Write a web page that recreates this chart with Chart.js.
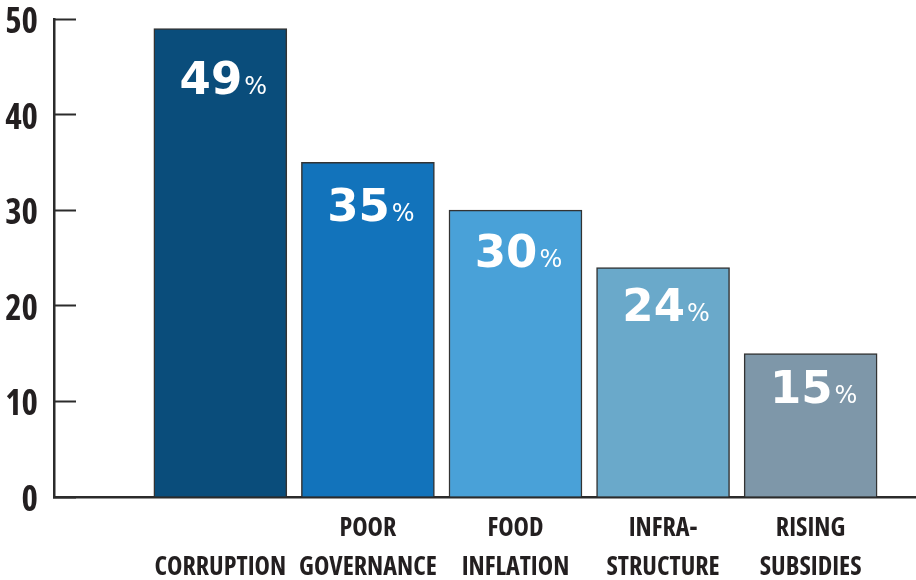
<!DOCTYPE html>
<html>
<head>
<meta charset="utf-8">
<script src="https://cdn.jsdelivr.net/npm/chart.js@4/dist/chart.umd.min.js"></script>
<style>
  html, body { margin: 0; padding: 0; background: #fff; }
  #wrap { width: 916px; height: 580px; position: relative; }
</style>
</head>
<body>
<div id="wrap"><canvas id="chart"></canvas></div>
<script>
// Survey shares (%) per issue.
const categories = [
  ["", "CORRUPTION"],
  ["POOR", "GOVERNANCE"],
  ["FOOD", "INFLATION"],
  ["INFRA-", "STRUCTURE"],
  ["RISING", "SUBSIDIES"],
];
const positions = [1, 2, 3, 4, 5];
const values = [49, 35, 30, 24, 15];
const yTicks = [0, 10, 20, 30, 40, 50];

const barColors = ["#0a4d7b", "#1273bb", "#49a1d8", "#6aa9ca", "#7e97a9"];
const INK = "#231f20";
// Open Sans ships a condensed bold face; Chart.js passes the weight string
// straight into ctx.font, so "bold condensed" picks it up.
const NARROW = "'Open Sans', Roboto, sans-serif";
const WIDE = "'DejaVu Sans', Verdana, sans-serif";

// White "49%" style labels: big digits with a small percent sign,
// sitting a little lower inside taller bars.
const valueLabels = {
  id: "valueLabels",
  afterDatasetsDraw(chart) {
    const { ctx } = chart;
    const meta = chart.getDatasetMeta(0);
    ctx.save();
    ctx.fillStyle = "#fff";
    ctx.textBaseline = "alphabetic";
    ctx.textAlign = "left";
    meta.data.forEach((bar, i) => {
      const h = bar.base - bar.y;
      const cy = bar.y + 26 + 0.051 * h;
      const num = String(values[i]);
      ctx.font = `bold 45px ${WIDE}`;
      const wNum = ctx.measureText(num).width;
      ctx.font = `24px ${WIDE}`;
      const wPct = ctx.measureText("%").width;
      const gap = 2;
      const left = bar.x - (wNum + gap + wPct) / 2 + 3;
      const baseline = cy + 16;
      ctx.font = `bold 45px ${WIDE}`;
      ctx.fillText(num, left, baseline);
      ctx.font = `24px ${WIDE}`;
      ctx.fillText("%", left + wNum + gap, baseline);
    });
    ctx.restore();
  },
};

new Chart(document.getElementById("chart"), {
  type: "bar",
  data: {
    datasets: [{
      data: positions.map((x, i) => ({ x, y: values[i] })),
      backgroundColor: barColors,
      borderColor: "#333",
      borderWidth: 1.5,
      borderSkipped: "bottom",
      barThickness: 133,
    }],
  },
  options: {
    responsive: true,
    maintainAspectRatio: false,
    animation: false,
    layout: { padding: { top: 19, right: 0, bottom: 0, left: 0 } },
    plugins: { legend: { display: false }, tooltip: { enabled: false } },
    scales: {
      x: {
        type: "linear",
        offset: false,
        min: -0.127,
        max: 5.714,
        grid: { display: true, drawOnChartArea: false, drawTicks: false, offset: false },
        border: { display: true, width: 2.5, color: "#2b2b2b" },
        ticks: {
          stepSize: 1,
          includeBounds: false,
          autoSkip: false,
          maxRotation: 0,
          padding: 12,
          color: INK,
          font: { family: NARROW, size: 26, weight: "bold condensed", lineHeight: 1.5 },
          callback: (v) => (positions.includes(v) ? categories[v - 1] : ""),
        },
        afterFit: (scale) => { scale.height = 83; },
      },
      y: {
        min: 0,
        max: 50,
        afterBuildTicks: (scale) => { scale.ticks = yTicks.map((value) => ({ value })); },
        afterFit: (scale) => {
          scale.width = 54;
          scale.paddingTop = 0; // labels may overhang; the plot starts at the 50 tick
          scale.paddingBottom = 0;
        },
        grid: {
          drawOnChartArea: false,
          drawTicks: true,
          tickLength: -22, // tick marks point into the plot
          tickWidth: 2,
          tickColor: "#2b2b2b",
        },
        border: { display: true, width: 2.5, color: "#2b2b2b" },
        ticks: {
          padding: 38,
          labelOffset: 4,
          color: INK,
          font: { family: NARROW, size: 35, weight: "bold condensed" },
        },
      },
    },
  },
  plugins: [valueLabels],
});
</script>
</body>
</html>
